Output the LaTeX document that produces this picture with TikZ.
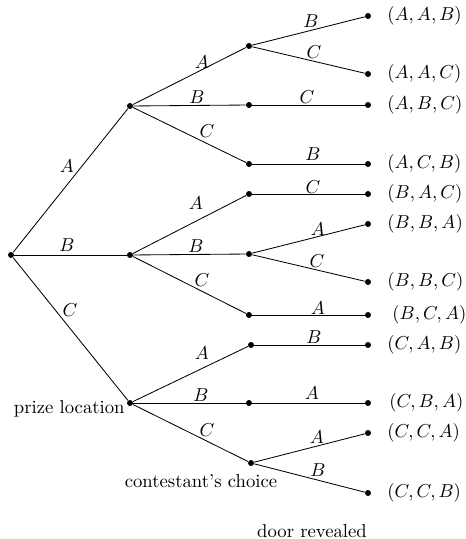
\documentclass[tikz,border=0pt]{standalone}
\begin{document}
\begin{tikzpicture}[x=0.535pt,y=-0.535pt,line width=0.45pt,
  dot/.style={circle,fill=black,inner sep=0pt,minimum size=3.2pt},
  lbl/.style={inner sep=0pt},
  leaf/.style={inner sep=0pt,anchor=west},
  txt/.style={inner sep=0pt}]
\useasboundingbox (0,0) rectangle (465,539);
% nodes
\node[dot] (r) at (11,255) {};
\node[dot] (a) at (130,106) {};
\node[dot] (b) at (130,255) {};
\node[dot] (c) at (130,403) {};
\node[dot] (aa) at (249,46) {};
\node[dot] (ab) at (249,105) {};
\node[dot] (ac) at (249,164) {};
\node[dot] (ba) at (249,194) {};
\node[dot] (bb) at (249,254) {};
\node[dot] (bc) at (249,315) {};
\node[dot] (ca) at (251,345) {};
\node[dot] (cb) at (249,403) {};
\node[dot] (cc) at (251,463) {};
\node[dot] (aab) at (368,16) {};
\node[dot] (aac) at (368,74) {};
\node[dot] (abc) at (368,105) {};
\node[dot] (acb) at (368,164) {};
\node[dot] (bac) at (368,194) {};
\node[dot] (bba) at (368,224) {};
\node[dot] (bbc) at (368,282) {};
\node[dot] (bca) at (368,315) {};
\node[dot] (cab) at (368,345) {};
\node[dot] (cba) at (368,403) {};
\node[dot] (cca) at (368,433) {};
\node[dot] (ccb) at (368,493) {};
% edges
\draw (r) -- (a); \draw (r) -- (b); \draw (r) -- (c);
\draw (a) -- (aa); \draw (a) -- (ab); \draw (a) -- (ac);
\draw (b) -- (ba); \draw (b) -- (bb); \draw (b) -- (bc);
\draw (c) -- (ca); \draw (c) -- (cb); \draw (c) -- (cc);
\draw (aa) -- (aab); \draw (aa) -- (aac);
\draw (ab) -- (abc); \draw (ac) -- (acb);
\draw (ba) -- (bac); \draw (bb) -- (bba); \draw (bb) -- (bbc);
\draw (bc) -- (bca); \draw (ca) -- (cab); \draw (cb) -- (cba);
\draw (cc) -- (cca); \draw (cc) -- (ccb);
% edge labels
\node[lbl] (l1) at (67,166) {$A$};
\node[lbl] (l2) at (67,245) {$B$};
\node[lbl] (l3) at (70,310) {$C$};
\node[lbl] (l4) at (202,62) {$A$};
\node[lbl] (l5) at (197,97) {$B$};
\node[lbl] (l6) at (207,131) {$C$};
\node[lbl] (l7) at (196,203) {$A$};
\node[lbl] (l8) at (196,246) {$B$};
\node[lbl] (l9) at (202,280) {$C$};
\node[lbl] (l10) at (202,353) {$A$};
\node[lbl] (l11) at (201,395) {$B$};
\node[lbl] (l12) at (207,430) {$C$};
\node[lbl] (m1) at (311,21) {$B$};
\node[lbl] (m2) at (314,52) {$C$};
\node[lbl] (m3) at (307,97) {$C$};
\node[lbl] (m4) at (313,154) {$B$};
\node[lbl] (m5) at (313,187) {$C$};
\node[lbl] (m6) at (318,229) {$A$};
\node[lbl] (m7) at (317,261) {$C$};
\node[lbl] (m8) at (318,308) {$A$};
\node[lbl] (m9) at (314,337) {$B$};
\node[lbl] (m10) at (312,393) {$A$};
\node[lbl] (m11) at (317,437) {$A$};
\node[lbl] (m12) at (318,470) {$B$};
% leaf labels
\node[leaf] (t1) at (387,16) {$(A,A,B)$};
\node[leaf] (t2) at (387,74) {$(A,A,C)$};
\node[leaf] (t3) at (387,105) {$(A,B,C)$};
\node[leaf] (t4) at (387,164) {$(A,C,B)$};
\node[leaf] (t5) at (387,194) {$(B,A,C)$};
\node[leaf] (t6) at (387,224) {$(B,B,A)$};
\node[leaf] (t7) at (387,282) {$(B,B,C)$};
\node[leaf] (t8) at (392,315) {$(B,C,A)$};
\node[leaf] (t9) at (387,345) {$(C,A,B)$};
\node[leaf] (t10) at (389,403) {$(C,B,A)$};
\node[leaf] (t11) at (387,433) {$(C,C,A)$};
\node[leaf] (t12) at (387,493) {$(C,C,B)$};
% level captions
\node[txt,anchor=east] (p) at (125,409) {prize location};
\node[txt] (q) at (201,481) {contestant's choice};
\node[txt] (d) at (312,531) {door revealed};
\end{tikzpicture}
\end{document}
